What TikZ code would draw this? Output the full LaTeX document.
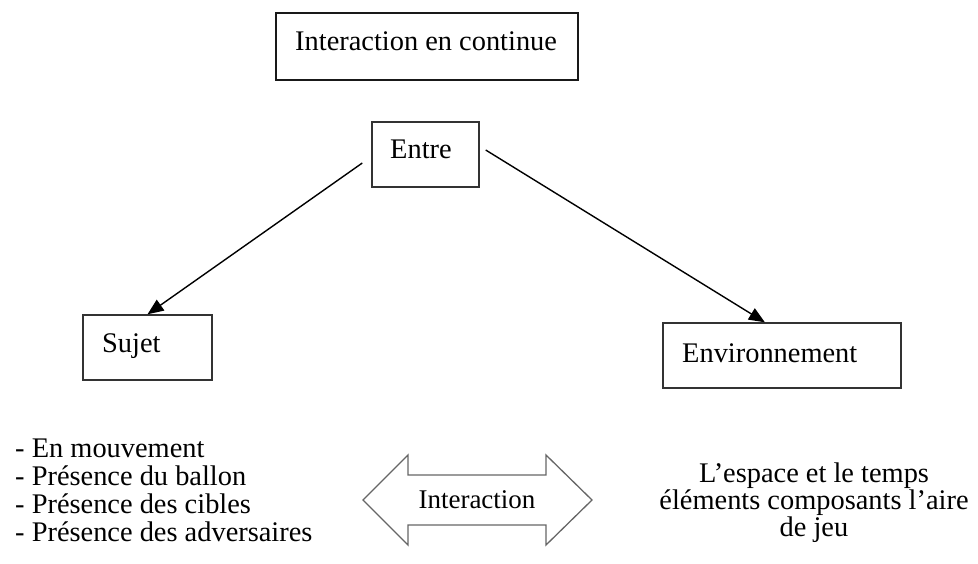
\documentclass[tikz,border=0pt]{standalone}
\usepackage{fontspec}
\setmainfont{Liberation Serif}
\usetikzlibrary{arrows.meta,calc}
\begin{document}
\begin{tikzpicture}[x=1pt,y=-1pt,
  box/.style={draw=black!80,line width=1.4pt,inner sep=0pt},
  lbl/.style={font=\fontsize{28.4}{28}\selectfont,inner sep=0pt,anchor=base west},
  conn/.style={-{Triangle[length=16pt,width=13pt]},line width=1.4pt,black},
  dblarrow/.style={draw=black!60,line width=1.3pt,line join=miter}]
\useasboundingbox (0,0) rectangle (978,563);
% boxes
\node[box,line width=2.2pt,draw=black!90,minimum width=302pt,minimum height=67pt] (top) at (427,46.5) {};
\node[box,minimum width=107pt,minimum height=65pt] (entre) at (425.5,154.5) {};
\node[box,minimum width=129pt,minimum height=65pt] (sujet) at (147.5,347.5) {};
\node[box,minimum width=238pt,minimum height=65pt] (env) at (782,355.5) {};
% texts
\node[lbl] (toptxt) at (295,50) {Interaction en continue};
\node[lbl] (entretxt) at (390,158) {Entre};
\node[lbl] (sujettxt) at (102,352) {Sujet};
\node[lbl] (envtxt) at (682,362) {Environnement};
% connectors
\coordinate (s1) at ($(entre.west)+(-9,8.5)$);
\coordinate (s2) at ($(entre.east)+(6,-4.5)$);
\coordinate (e2) at ($(env.north west)!0.4286!(env.north east)$);
\draw[conn] (s1) -- (sujet.north);
\draw[conn] (s2) -- (e2);
% double arrow
\draw[dblarrow] (363,500) -- (408,455) -- (408,475) -- (546,475) -- (546,455) -- (592,500)
  -- (546,545) -- (546,525) -- (408,525) -- (408,545) -- cycle;
\node[font=\fontsize{27}{28}\selectfont,inner sep=0pt,anchor=base] (inter) at (477,508) {Interaction};
% list
\node[font=\fontsize{28.4}{28}\selectfont,inner sep=0pt,anchor=base west,align=left] (list) at (15,541)
  {- En mouvement\\- Présence du ballon\\- Présence des cibles\\- Présence des adversaires};
\node[font=\fontsize{28.4}{25.5}\selectfont,inner sep=0pt,anchor=base,align=center] (envtext) at (814,536)
  {L’espace et le temps\\éléments composants l’aire\\de jeu};
\end{tikzpicture}
\end{document}
